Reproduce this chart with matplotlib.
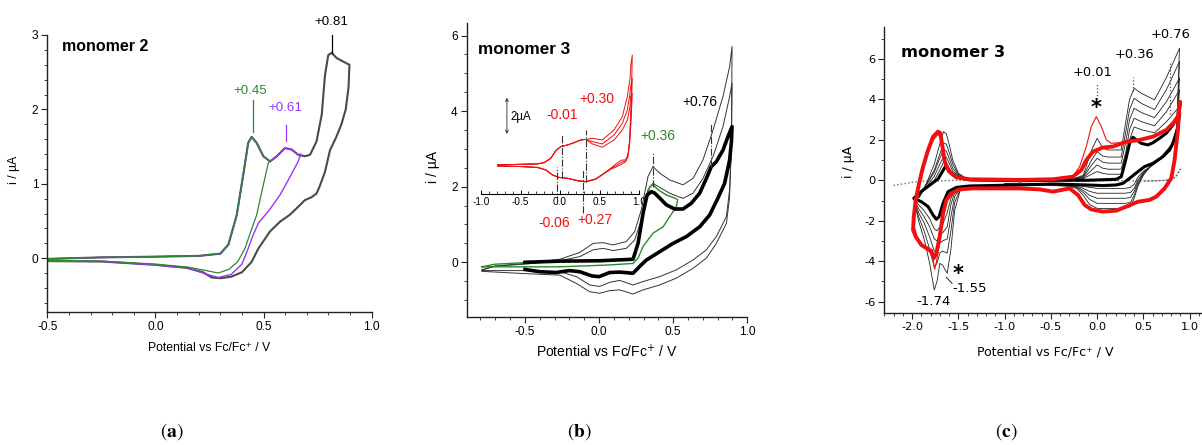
import matplotlib
matplotlib.use('Agg')
import matplotlib.pyplot as plt
from matplotlib.ticker import MultipleLocator, FormatStrFormatter

plt.rcParams['font.family'] = ['Liberation Sans', 'DejaVu Sans']
plt.rcParams['axes.unicode_minus'] = False

# ---------------- panel (a): monomer 2 ----------------
a_fwd_x = [-0.50, -0.25, 0.00, 0.20, 0.30, 0.337, 0.376, 0.406, 0.429, 0.445, 0.468, 0.499, 0.530,
           0.561, 0.599, 0.630, 0.660, 0.691, 0.715, 0.745, 0.769, 0.784, 0.799, 0.815, 0.838, 0.870, 0.897]
a_fwd_y = [-0.01, 0.01, 0.02, 0.03, 0.06, 0.18, 0.58, 1.12, 1.55, 1.63, 1.55, 1.37, 1.30,
           1.37, 1.48, 1.46, 1.39, 1.37, 1.39, 1.57, 1.93, 2.46, 2.73, 2.76, 2.69, 2.64, 2.60]
a_blk_rev_x = [0.897, 0.893, 0.880, 0.860, 0.835, 0.807, 0.784, 0.760, 0.745, 0.722, 0.691, 0.660, 0.620,
               0.576, 0.530, 0.476, 0.445, 0.400, 0.350, 0.300, 0.260, 0.220, 0.144, 0.067, 0.0, -0.25, -0.50]
a_blk_rev_y = [2.60, 2.30, 2.00, 1.80, 1.62, 1.45, 1.16, 0.97, 0.87, 0.82, 0.78, 0.69, 0.58,
               0.49, 0.36, 0.13, -0.05, -0.19, -0.25, -0.27, -0.26, -0.19, -0.13, -0.11, -0.09, -0.045, -0.04]
a_grn_rev_x = [0.530, 0.522, 0.500, 0.468, 0.440, 0.414, 0.380, 0.340, 0.290, 0.240, 0.150, 0.0, -0.25, -0.50]
a_grn_rev_y = [1.30, 1.28, 1.00, 0.58, 0.35, 0.13, -0.05, -0.15, -0.20, -0.17, -0.12, -0.08, -0.04, -0.03]
a_pur_rev_x = [0.660, 0.672, 0.660, 0.620, 0.576, 0.530, 0.476, 0.450, 0.429, 0.400, 0.350, 0.290, 0.240,
               0.150, 0.0, -0.25, -0.50]
a_pur_rev_y = [1.39, 1.40, 1.30, 1.08, 0.85, 0.66, 0.47, 0.30, 0.13, -0.08, -0.22, -0.26, -0.22,
               -0.13, -0.09, -0.045, -0.04]

# ---------------- panel (b): monomer 3 ----------------
b_thk_fwd_x = [-0.5, -0.265, 0.0, 0.229, 0.263, 0.297, 0.324, 0.353, 0.375, 0.409, 0.454, 0.510, 0.566,
               0.622, 0.679, 0.724, 0.757, 0.791, 0.836, 0.870, 0.897]
b_thk_fwd_y = [0.0, 0.03, 0.04, 0.08, 0.50, 1.30, 1.78, 1.87, 1.83, 1.70, 1.52, 1.41, 1.41,
               1.56, 1.83, 2.22, 2.53, 2.66, 2.97, 3.33, 3.59]
b_thk_rev_x = [0.897, 0.893, 0.881, 0.847, 0.802, 0.746, 0.679, 0.589, 0.499, 0.409, 0.319, 0.274, 0.229,
               0.139, 0.072, 0.0, -0.05, -0.13, -0.2, -0.29, -0.4, -0.5]
b_thk_rev_y = [3.59, 3.2, 2.71, 2.09, 1.70, 1.25, 0.94, 0.68, 0.50, 0.28, 0.06, -0.11, -0.29,
               -0.26, -0.27, -0.38, -0.36, -0.25, -0.22, -0.27, -0.25, -0.19]
b_thin_fwd_x = [-0.79, -0.7, -0.5, -0.265, -0.13, -0.04, 0.027, 0.094, 0.184, 0.240, 0.285, 0.330, 0.364,
                0.409, 0.476, 0.566, 0.634, 0.701, 0.769, 0.836, 0.881, 0.897]
b_thin1_fwd_y = [-0.20, -0.10, -0.03, 0.08, 0.26, 0.50, 0.52, 0.46, 0.55, 0.81, 1.39, 2.27, 2.53,
                 2.36, 2.18, 2.05, 2.22, 2.71, 3.50, 4.39, 5.18, 5.71]
b_thin2_fwd_y = [-0.20, -0.10, -0.05, 0.04, 0.15, 0.33, 0.37, 0.31, 0.37, 0.59, 1.12, 1.92, 2.09,
                 1.98, 1.83, 1.69, 1.83, 2.22, 2.80, 3.59, 4.39, 4.74]
b_thin_rev_x = [0.897, 0.893, 0.88, 0.859, 0.791, 0.724, 0.634, 0.521, 0.409, 0.297, 0.229, 0.139, 0.072,
                0.004, -0.063, -0.153, -0.265, -0.5, -0.79]
b_thin1_rev_y = [5.71, 3.2, 1.7, 1.03, 0.50, 0.11, -0.16, -0.42, -0.60, -0.73, -0.84, -0.73, -0.75,
                 -0.82, -0.78, -0.56, -0.34, -0.30, -0.24]
b_thin2_rev_y = [4.74, 3.0, 1.9, 1.21, 0.68, 0.33, 0.06, -0.20, -0.38, -0.51, -0.60, -0.48, -0.53,
                 -0.64, -0.60, -0.38, -0.25, -0.22, -0.22]
b_grn_fwd_x = [-0.79, -0.7, -0.5, -0.265, 0.0, 0.229, 0.240, 0.274, 0.308, 0.342, 0.364, 0.398, 0.454, 0.510, 0.53]
b_grn_fwd_y = [-0.12, -0.05, -0.01, 0.02, 0.04, 0.06, 0.15, 0.68, 1.56, 2.0, 2.05, 1.92, 1.78, 1.70, 1.66]
b_grn_rev_x = [0.53, 0.521, 0.499, 0.432, 0.364, 0.297, 0.263, 0.229, 0.072, -0.265, -0.5, -0.79]
b_grn_rev_y = [1.66, 1.47, 1.34, 0.94, 0.77, 0.42, 0.11, -0.03, -0.07, -0.12, -0.12, -0.12]

# inset of (b), three cycles
ins_up_x = [-0.79, -0.495, -0.284, -0.20, -0.116, -0.053, 0.011, 0.095, 0.179, 0.263, 0.326]
ins_up_y = [0.05, 0.08, 0.10, 0.16, 0.37, 0.74, 0.93, 1.01, 1.12, 1.25, 1.28]
ins_tail_x = [0.326, 0.410, 0.536, 0.684, 0.789, 0.852, 0.886, 0.894, 0.915]
ins_tail_y = [[1.28, 1.33, 1.25, 1.73, 2.37, 3.33, 4.20, 4.77, 5.34],
              [1.28, 1.17, 1.06, 1.49, 2.05, 2.69, 3.50, 3.82, 4.22],
              [1.28, 1.06, 0.90, 1.25, 1.73, 2.21, 2.85, 3.33, 3.50]]
ins_dn_x = [0.915, 0.90, 0.88, 0.86, 0.831, 0.78, 0.726, 0.642, 0.558, 0.452, 0.326, 0.221, 0.095,
            -0.011, -0.095, -0.179, -0.284, -0.495, -0.79]
ins_dn_y = [[5.34, 3.0, 1.2, 0.55, 0.29, 0.28, 0.15, -0.11, -0.35, -0.62, -0.75, -0.70, -0.59,
             -0.55, -0.43, -0.19, -0.07, -0.03, 0.0],
            [4.22, 2.6, 1.1, 0.50, 0.25, 0.18, 0.05, -0.13, -0.36, -0.63, -0.76, -0.71, -0.59,
             -0.55, -0.43, -0.19, -0.07, -0.03, 0.0],
            [3.50, 2.2, 1.0, 0.45, 0.20, 0.08, -0.02, -0.16, -0.37, -0.64, -0.77, -0.72, -0.60,
             -0.56, -0.44, -0.20, -0.08, -0.03, 0.0]]

# ---------------- panel (c): monomer 3, wide window ----------------
c_red_x = [-0.84, -1.2, -1.377, -1.521, -1.60, -1.647, -1.672, -1.694, -1.719, -1.773, -1.827, -1.881,
           -1.924, -1.96, -1.982, -1.989, -1.96, -1.899, -1.827, -1.791, -1.766, -1.737, -1.701, -1.665,
           -1.629, -1.575, -1.485, -1.341, -0.837, -0.621, -0.477, -0.297, -0.207, -0.135, -0.063, 0.063,
           0.207, 0.315, 0.441, 0.567, 0.639, 0.729, 0.801, 0.837, 0.873, 0.891, 0.897, 0.873, 0.819,
           0.747, 0.603, 0.459, 0.315, 0.171, 0.063, -0.045, -0.117, -0.171, -0.261, -0.477, -0.84]
c_red_y = [0.02, 0.04, 0.05, 0.15, 0.43, 0.92, 1.67, 2.33, 2.41, 2.16, 1.5, 0.68,
           -0.15, -0.97, -1.8, -2.46, -2.79, -3.2, -3.4, -3.5, -3.86, -3.6, -2.79, -1.63,
           -0.97, -0.64, -0.45, -0.40, -0.40, -0.45, -0.56, -0.40, -0.73, -1.22, -1.44, -1.55,
           -1.50, -1.30, -1.06, -0.97, -0.81, -0.40, 0.10, 1.0, 2.49, 3.81, 3.88, 3.15, 2.82,
           2.49, 2.16, 2.0, 1.91, 1.67, 1.62, 1.42, 1.0, 0.51, 0.18, 0.05, 0.02]
c_red2_lx = [-1.377, -1.52, -1.60, -1.65, -1.68, -1.715, -1.77, -1.83, -1.88, -1.93, -1.965, -1.975,
             -1.94, -1.88, -1.81, -1.775, -1.755, -1.735, -1.70, -1.665, -1.63, -1.575, -1.485, -1.341]
c_red2_ly = [0.07, 0.18, 0.5, 1.1, 1.9, 2.30, 2.0, 1.3, 0.5, -0.4, -1.5, -2.3,
             -2.9, -3.3, -3.55, -3.9, -4.4, -4.0, -3.0, -1.8, -1.0, -0.6, -0.45, -0.38]
c_red2_rx = [0.315, 0.243, 0.153, 0.099, 0.045, -0.009, -0.063, -0.117, -0.189, -0.261, -0.477, -0.84]
c_red2_ry = [1.91, 1.86, 1.83, 2.0, 2.66, 3.15, 2.66, 1.67, 0.68, 0.2, 0.08, 0.05]
c_blk_x = [-0.837, -1.377, -1.521, -1.593, -1.636, -1.672, -1.719, -1.791, -1.881, -1.982, -1.899, -1.827,
           -1.773, -1.737, -1.708, -1.665, -1.611, -1.521, -1.377, -0.837, -0.477, -0.117, 0.063, 0.207,
           0.279, 0.351, 0.441, 0.513, 0.603, 0.711, 0.783, 0.837, 0.873, 0.892, 0.884, 0.819, 0.747,
           0.675, 0.603, 0.549, 0.477, 0.423, 0.387, 0.351, 0.308, 0.261, 0.207, -0.117, -0.477, -0.837]
c_blk_y = [-0.02, 0.02, 0.15, 0.43, 0.71, 0.43, 0.07, -0.18, -0.48, -0.89, -1.06, -1.30,
           -1.72, -1.93, -1.80, -1.14, -0.56, -0.35, -0.28, -0.23, -0.18, -0.23, -0.26, -0.23,
           -0.15, 0.10, 0.43, 0.68, 0.84, 1.17, 1.50, 2.0, 2.66, 3.32, 3.27, 2.74, 2.33,
           2.08, 1.86, 1.75, 1.83, 2.0, 2.13, 1.83, 1.0, 0.18, 0.05, 0.0, 0.0, -0.02]
# thin intermediate cycles (inner -> outer)
cr_up_x = [-1.0, -0.5, -0.25, -0.15, -0.06, 0.0, 0.06, 0.12, 0.26, 0.31, 0.35, 0.40, 0.48, 0.62, 0.75, 0.89]
cr_up_y = [[0.05, 0.05, 0.07, 0.08, 0.30, 0.43, 0.35, 0.30, 0.30, 1.0, 2.0, 2.64, 2.5, 2.35, 2.9, 3.65],
           [0.05, 0.05, 0.07, 0.12, 0.50, 0.76, 0.60, 0.55, 0.55, 1.4, 2.5, 3.07, 2.9, 2.7, 3.4, 4.47],
           [0.05, 0.05, 0.07, 0.15, 0.75, 1.09, 0.90, 0.85, 0.85, 1.9, 3.0, 3.56, 3.35, 3.1, 3.9, 5.05],
           [0.05, 0.05, 0.08, 0.20, 1.00, 1.42, 1.20, 1.15, 1.15, 2.4, 3.5, 4.06, 3.8, 3.5, 4.5, 5.87],
           [0.05, 0.05, 0.08, 0.25, 1.50, 2.08, 1.60, 1.50, 1.50, 2.9, 4.0, 4.55, 4.3, 3.98, 5.1, 6.53]]
cr_lo_x = [0.89, 0.86, 0.80, 0.70, 0.60, 0.50, 0.44, 0.40, 0.36, 0.30, 0.15, 0.0, -0.08, -0.15, -0.22,
           -0.30, -0.50, -1.0]
cr_lo_y = [[3.65, 2.2, 1.55, 1.1, 0.75, 0.45, 0.15, -0.2, -0.35, -0.4, -0.4, -0.4, -0.35, -0.3, -0.25, -0.22, -0.2, -0.18],
           [4.47, 2.3, 1.6, 1.1, 0.75, 0.40, 0.0, -0.4, -0.6, -0.64, -0.64, -0.64, -0.55, -0.4, -0.28, -0.24, -0.2, -0.18],
           [5.05, 2.4, 1.65, 1.15, 0.8, 0.35, -0.1, -0.55, -0.85, -0.89, -0.89, -0.89, -0.75, -0.5, -0.32, -0.26, -0.22, -0.18],
           [5.87, 2.5, 1.7, 1.15, 0.8, 0.3, -0.2, -0.75, -1.1, -1.14, -1.14, -1.14, -0.95, -0.6, -0.36, -0.28, -0.22, -0.18],
           [6.53, 2.6, 1.75, 1.2, 0.85, 0.25, -0.3, -0.9, -1.3, -1.39, -1.39, -1.39, -1.2, -0.75, -0.4, -0.3, -0.25, -0.18]]
cl_up_x = [-1.0, -1.40, -1.50, -1.56, -1.60, -1.63, -1.66, -1.70, -1.76, -1.84, -1.92, -1.98]
cl_up_y = [[0.05, 0.05, 0.15, 0.35, 0.6, 0.85, 0.9, 0.5, 0.0, -0.4, -0.7, -0.92],
           [0.05, 0.05, 0.2, 0.45, 0.85, 1.15, 1.17, 0.8, 0.2, -0.3, -0.7, -0.92],
           [0.05, 0.05, 0.25, 0.6, 1.1, 1.45, 1.5, 1.1, 0.4, -0.2, -0.75, -0.92],
           [0.05, 0.05, 0.3, 0.8, 1.4, 1.8, 1.83, 1.3, 0.5, -0.15, -0.8, -0.92],
           [0.05, 0.05, 0.35, 1.0, 1.8, 2.3, 2.41, 1.8, 0.8, -0.1, -0.85, -0.92]]
cl_lo_x = [-1.98, -1.93, -1.87, -1.81, -1.76, -1.73, -1.70, -1.67, -1.62, -1.58, -1.54, -1.48, -1.40, -1.0]
cl_lo_y = [[-0.92, -1.2, -1.5, -1.9, -2.4, -2.5, -2.3, -2.2, -1.6, -0.9, -0.5, -0.35, -0.3, -0.2],
           [-0.92, -1.4, -1.8, -2.3, -2.9, -3.0, -2.7, -2.6, -2.3, -1.2, -0.6, -0.38, -0.32, -0.2],
           [-0.92, -1.6, -2.1, -2.8, -3.5, -3.5, -3.1, -3.0, -2.9, -1.8, -0.8, -0.42, -0.34, -0.2],
           [-0.92, -1.8, -2.5, -3.4, -4.3, -4.1, -3.6, -3.5, -3.6, -2.5, -1.1, -0.46, -0.36, -0.2],
           [-0.92, -2.0, -2.9, -4.1, -5.43, -5.0, -4.11, -4.2, -4.6, -3.4, -1.5, -0.5, -0.4, -0.2]]
c_dot_x = [-2.2, -2.1, -2.0, -1.9, -1.5, -1.0, 0.0, 0.6, 0.75, 0.85, 0.9, 0.85, 0.75, 0.5]
c_dot_y = [-0.25, -0.18, -0.10, -0.05, 0.0, 0.0, -0.02, -0.03, 0.0, 0.2, 0.55, 0.15, 0.0, -0.04]

W, H = 1202, 445
fig = plt.figure(figsize=(W / 100, H / 100), dpi=100)


def rect(x0, y0, x1, y1):
    return [x0 / W, 1 - y1 / H, (x1 - x0) / W, (y1 - y0) / H]


def ftext(x, y, s, **kw):
    fig.text(x / W, 1 - y / H, s, **kw)


def style(ax, xmaj, xmin, ymaj, ymin, fs, fam):
    for s in ['top', 'right']:
        ax.spines[s].set_visible(False)
    for s in ['left', 'bottom']:
        ax.spines[s].set_linewidth(1.0)
        ax.spines[s].set_color('#222222')
    ax.xaxis.set_major_locator(MultipleLocator(xmaj))
    ax.xaxis.set_minor_locator(MultipleLocator(xmin))
    ax.yaxis.set_major_locator(MultipleLocator(ymaj))
    ax.yaxis.set_minor_locator(MultipleLocator(ymin))
    ax.xaxis.set_major_formatter(FormatStrFormatter('%.1f'))
    ax.yaxis.set_major_formatter(FormatStrFormatter('%d'))
    ax.tick_params(which='major', direction='out', length=4, width=0.8, color='#222222',
                   labelsize=fs, pad=2.5)
    ax.tick_params(which='minor', direction='out', length=2.3, width=0.6, color='#222222')
    for lab in ax.get_xticklabels() + ax.get_yticklabels():
        lab.set_family(fam)
    ax.patch.set_alpha(0)


GREEN = '#2a8a2a'
PURPLE = '#9933ff'
RED = '#f01010'

# ---- (a) ----
ax1 = fig.add_axes(rect(47.3, 35, 371.7, 311.7))
ax1.set_xlim(-0.5, 1.0)
ax1.set_ylim(-0.72, 3.0)
style(ax1, 0.5, 0.1, 1, 0.2, 8.6, 'Liberation Sans')
ax1.plot(a_fwd_x + a_blk_rev_x, a_fwd_y + a_blk_rev_y, color='#4a4a4a', lw=1.5)
ax1.plot(a_fwd_x[:17] + a_pur_rev_x, a_fwd_y[:17] + a_pur_rev_y, color=PURPLE, lw=1.0)
ax1.plot(a_fwd_x[:13] + a_grn_rev_x, a_fwd_y[:13] + a_grn_rev_y, color=GREEN, lw=0.9)
ax1.plot([0.45, 0.45], [1.69, 2.13], color=GREEN, lw=0.9)
ax1.plot([0.602, 0.602], [1.57, 1.79], color=PURPLE, lw=0.9)
ax1.plot([0.815, 0.815], [2.76, 3.0], color='black', lw=0.9, clip_on=False)
ax1.text(0.44, 2.25, '+0.45', color=GREEN, fontsize=9.6, ha='center', va='center')
ax1.text(0.599, 2.02, '+0.61', color=PURPLE, fontsize=9.6, ha='center', va='center')
ax1.text(0.812, 3.17, '+0.81', color='black', fontsize=9.6, ha='center', va='center')
ax1.text(-0.433, 2.84, 'monomer 2', fontsize=11.5, fontweight='bold', ha='left', va='center')
ftext(209, 348.3, 'Potential vs Fc/Fc\u207a / V', fontsize=8.8, ha='center', va='center')
ftext(14, 170, 'i / \u00b5A', fontsize=8.8, ha='center', va='center', rotation=90)

# ---- (b) ----
ax2 = fig.add_axes(rect(466.7, 22.7, 747.3, 316.7))
ax2.set_xlim(-0.893, 1.0)
ax2.set_ylim(-1.44, 6.34)
style(ax2, 0.5, 0.1, 2, 0.5, 8.6, 'Liberation Sans')
ax2.plot(b_thin_fwd_x + b_thin_rev_x, b_thin1_fwd_y + b_thin1_rev_y, color='#333333', lw=0.7)
ax2.plot(b_thin_fwd_x + b_thin_rev_x, b_thin2_fwd_y + b_thin2_rev_y, color='#333333', lw=0.7)
ax2.plot(b_grn_fwd_x + b_grn_rev_x, b_grn_fwd_y + b_grn_rev_y, color=GREEN, lw=1.0)
ax2.plot(b_thk_fwd_x + b_thk_rev_x, b_thk_fwd_y + b_thk_rev_y, color='black', lw=2.6)
ax2.plot([0.364, 0.364], [2.0, 2.89], color='#333333', lw=0.8, ls='-.')
ax2.plot([0.757, 0.757], [2.53, 3.68], color='#333333', lw=0.8, ls='-.')
ax2.text(0.398, 3.34, '+0.36', color=GREEN, fontsize=10, ha='center', va='center')
ax2.text(0.679, 4.25, '+0.76', color='black', fontsize=10, ha='center', va='center')
ax2.text(-0.82, 5.63, 'monomer 3', fontsize=12.3, fontweight='bold', ha='left', va='center')
ftext(606.7, 351.7, 'Potential vs Fc/Fc$^{+}$ / V', fontsize=10, ha='center', va='center')
ftext(433.3, 166.7, 'i / \u00b5A', fontsize=10, ha='center', va='center', rotation=90)

# inset
ins = fig.add_axes(rect(481, 50, 639, 194))
ins.set_xlim(-1.0, 1.0)
ins.set_ylim(-1.35, 5.58)
for s in ['top', 'right', 'left']:
    ins.spines[s].set_visible(False)
ins.spines['bottom'].set_linewidth(0.8)
ins.patch.set_alpha(0)
ins.set_yticks([])
ins.xaxis.set_major_locator(MultipleLocator(0.5))
ins.xaxis.set_minor_locator(MultipleLocator(0.1))
ins.xaxis.set_major_formatter(FormatStrFormatter('%.1f'))
ins.tick_params(axis='x', which='major', direction='in', length=3, width=0.7, labelsize=7.2, pad=2)
ins.tick_params(axis='x', which='minor', direction='in', length=2, width=0.5)
for k in range(3):
    ins.plot(ins_up_x + ins_tail_x + ins_dn_x, ins_up_y + ins_tail_y[k] + ins_dn_y[k], color=RED, lw=0.7)
for xx, y0, y1 in [(0.031, -0.59, 1.49), (0.326, -0.75, 1.73), (-0.032, -1.8, -0.03), (0.297, -2.27, -0.19)]:
    ins.plot([xx, xx], [y0, y1], color='#333333', lw=0.8, ls='-.', clip_on=False)
ins.text(0.031, 2.45, '-0.01', color=RED, fontsize=10, ha='center', va='center')
ins.text(0.473, 3.2, '+0.30', color=RED, fontsize=10, ha='center', va='center')
ins.text(-0.074, -2.75, '-0.06', color=RED, fontsize=10, ha='center', va='center', clip_on=False)
ins.text(0.443, -2.6, '+0.27', color=RED, fontsize=10, ha='center', va='center', clip_on=False)
ins.text(-0.63, 2.37, '2\u00b5A', fontsize=8.3, ha='left', va='center')
ins.annotate('', xy=(-0.672, 3.41), xytext=(-0.672, 1.41),
             arrowprops=dict(arrowstyle='<->', lw=0.6, color='#222222', mutation_scale=5))

# ---- (c) ----
ax3 = fig.add_axes(rect(884.3, 26.7, 1201.7, 313.3))
ax3.set_xlim(-2.30, 1.13)
ax3.set_ylim(-6.58, 7.6)
style(ax3, 0.5, 0.1, 2, 1, 8.2, 'DejaVu Sans')
ax3.plot(c_dot_x, c_dot_y, color='#666666', lw=1.0, ls=':')
for k in range(5):
    ax3.plot(cr_up_x, cr_up_y[k], color='#222222', lw=0.6)
    ax3.plot(cr_lo_x, cr_lo_y[k], color='#222222', lw=0.6)
    ax3.plot(cl_up_x, cl_up_y[k], color='#222222', lw=0.6)
    ax3.plot(cl_lo_x, cl_lo_y[k], color='#222222', lw=0.6)
ax3.plot(c_red2_lx, c_red2_ly, color=RED, lw=0.8)
ax3.plot(c_red2_rx, c_red2_ry, color=RED, lw=0.8)
ax3.plot(c_blk_x, c_blk_y, color='black', lw=2.2)
ax3.plot(c_red_x, c_red_y, color=RED, lw=2.8)
ax3.plot([0.0, 0.0], [4.0, 4.8], color='#444444', lw=0.9, ls=':')
ax3.plot([0.387, 0.387], [4.4, 5.1], color='#444444', lw=0.9, ls=':')
ax3.plot([0.783, 0.783], [3.3, 5.9], color='#444444', lw=0.9, ls=':')
ax3.plot([-1.63, -1.568], [-4.8, -5.1], color='#222222', lw=0.7)
ax3.text(-0.044, 5.33, '+0.01', fontsize=9.4, ha='center', va='center', family='DejaVu Sans')
ax3.text(0.405, 6.2, '+0.36', fontsize=9.4, ha='center', va='center', family='DejaVu Sans')
ax3.text(0.791, 7.2, '+0.76', fontsize=9.4, ha='center', va='center', family='DejaVu Sans')
ax3.text(-0.009, 3.6, '*', fontsize=15, fontweight='bold', ha='center', va='center', family='DejaVu Sans')
ax3.text(-1.503, -4.65, '*', fontsize=15, fontweight='bold', ha='center', va='center', family='DejaVu Sans')
ax3.text(-1.377, -5.35, '-1.55', fontsize=9.6, ha='center', va='center', family='DejaVu Sans')
ax3.text(-1.773, -6.0, '-1.74', fontsize=9.6, ha='center', va='center', family='DejaVu Sans')
ax3.text(-2.115, 6.32, 'monomer 3', fontsize=11.7, fontweight='bold', ha='left', va='center',
         family='DejaVu Sans')
ftext(1045, 351.7, 'Potential vs Fc/Fc\u207a / V', fontsize=9, ha='center', va='center', family='DejaVu Sans')
ftext(848.3, 161.7, 'i / \u00b5A', fontsize=9, ha='center', va='center', rotation=90, family='DejaVu Sans')

# panel letters
for xp, letter in [(172, 'a'), (579, 'b'), (1006, 'c')]:
    ftext(xp, 432, r'$(\mathbf{%s})$' % letter, fontsize=14, ha='center', va='center', math_fontfamily='stix')

fig.savefig('out.png', dpi=100)
